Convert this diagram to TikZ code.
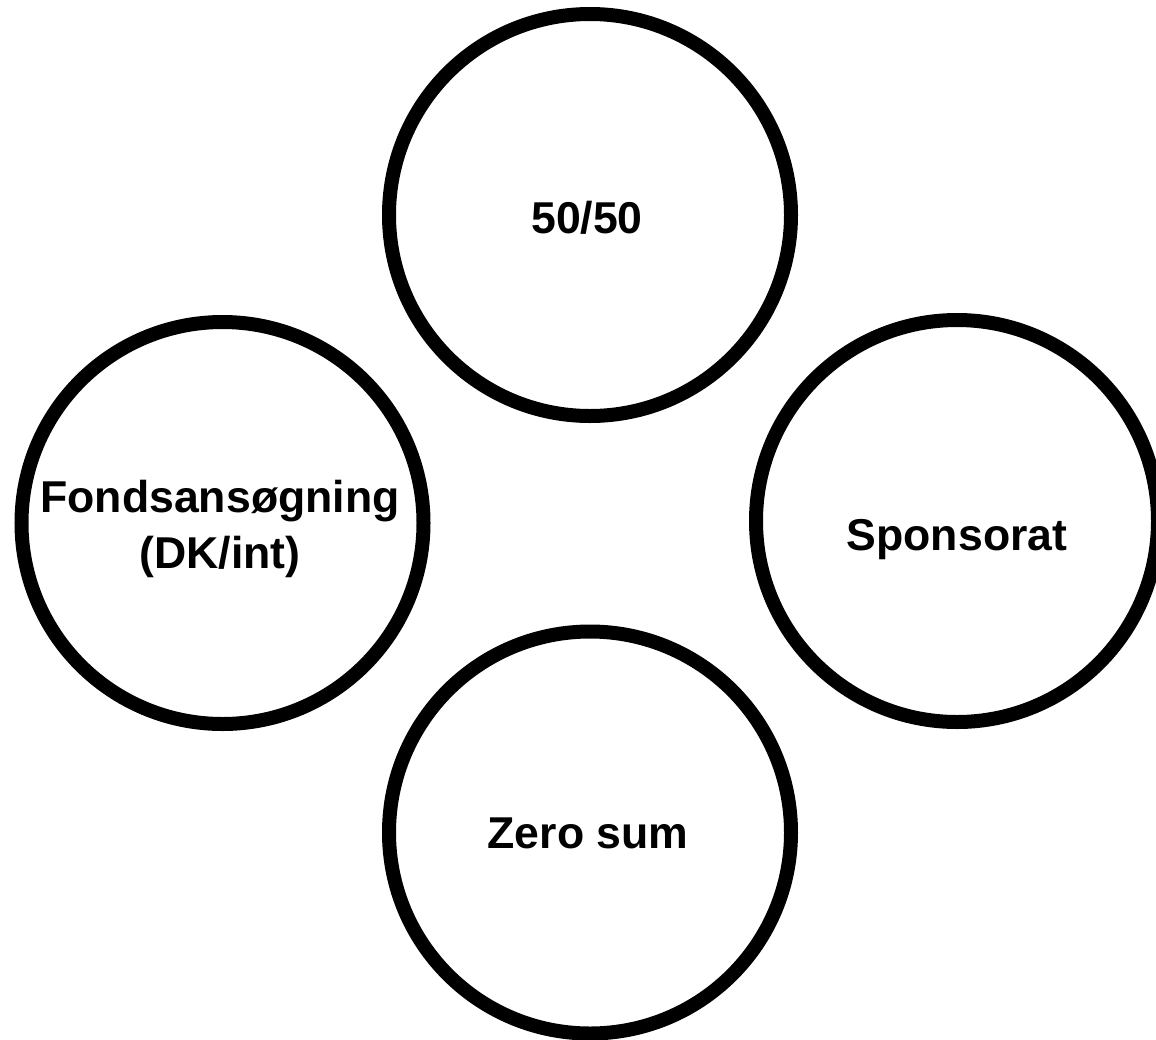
\documentclass[tikz,border=0pt]{standalone}
\usepackage{fontspec}
\setmainfont{Liberation Sans}
\begin{document}
\begin{tikzpicture}[x=1pt,y=-1pt,
  ring/.style={draw=black,line width=14pt,circle,minimum size=402pt,inner sep=0pt,fill=none},
  lbl/.style={font=\bfseries\fontsize{44.6}{56}\selectfont,anchor=base,inner sep=0pt,align=center}]
\useasboundingbox (0,0) rectangle (1156,1039);
\clip (0,0) rectangle (1156,1039);
\node[ring] (top) at (590,215) {};
\node[ring] (left) at (222.5,523) {};
\node[ring] (right) at (957,521) {};
\node[ring] (bottom) at (590,832.5) {};
\node[lbl] (ttop) at (587,233) {50/50};
\node[lbl] (tleft1) at (220,512) {Fondsansøgning};
\node[lbl] (tleft2) at (220,568) {(DK/int)};
\node[lbl] (tright) at (957,550) {Sponsorat};
\node[lbl] (tbottom) at (588,848) {Zero sum};
\end{tikzpicture}
\end{document}
